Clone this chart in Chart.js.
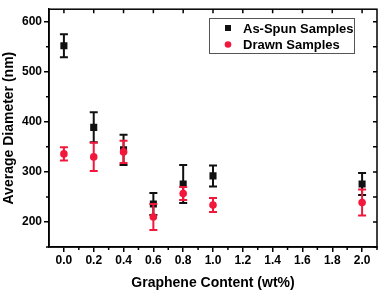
<!DOCTYPE html>
<html>
<head>
<meta charset="utf-8">
<script src="https://cdn.jsdelivr.net/npm/chart.js@4"></script>
<style>
  html, body { margin: 0; padding: 0; background: #fff; }
  #wrap { width: 382px; height: 292px; }
</style>
</head>
<body>
<div id="wrap"><canvas id="myChart"></canvas></div>
<script>
// graphene content (wt%) and fibre diameters
const contents = [0.0, 0.2, 0.4, 0.6, 0.8, 1.0, 2.0];
const asSpunMean = [552, 389, 344, 236, 276, 292, 276];
const asSpunErr = [23, 30, 30, 22, 38, 21, 22];
const drawnMean = [336, 330, 340, 210, 257, 234, 239];
const drawnErr = [13, 28, 22, 26, 13, 14, 26];

const xTicks = [0.0, 0.2, 0.4, 0.6, 0.8, 1.0, 1.2, 1.4, 1.6, 1.8, 2.0];
const yTicks = [200, 300, 400, 500, 600];

const BLACK = '#111111';
const RED = '#f2183c';
const FONT = '"Liberation Sans", Arial, sans-serif';

function toPoints(xs, ys, errs) {
  return xs.map((x, i) => ({ x: x, y: ys[i], err: errs[i] }));
}

// error bars, drawn just before each dataset's markers
const errorBars = {
  id: 'errorBars',
  beforeDatasetDraw(chart, args) {
    const ds = chart.data.datasets[args.index];
    const xs = chart.scales.x, ys = chart.scales.y;
    const ctx = chart.ctx;
    ctx.save();
    ctx.strokeStyle = ds.borderColor;
    ctx.lineWidth = 2;
    ds.data.forEach(p => {
      const px = xs.getPixelForValue(p.x);
      const top = ys.getPixelForValue(p.y + p.err);
      const bot = ys.getPixelForValue(p.y - p.err);
      ctx.beginPath();
      ctx.moveTo(px, top); ctx.lineTo(px, bot);
      ctx.moveTo(px - 4, top); ctx.lineTo(px + 4, top);
      ctx.moveTo(px - 4, bot); ctx.lineTo(px + 4, bot);
      ctx.stroke();
    });
    ctx.restore();
  }
};

// frame, minor ticks, mirrored ticks and the boxed legend
const frame = {
  id: 'frame',
  afterDraw(chart) {
    const { ctx, chartArea: a } = chart;
    const xs = chart.scales.x, ys = chart.scales.y;
    ctx.save();
    ctx.strokeStyle = '#000';
    ctx.lineWidth = 1.5;
    ctx.strokeRect(a.left, a.top, a.right - a.left, a.bottom - a.top);
    ctx.beginPath();
    for (let v = 0.1; v < 2.1; v += 0.2) {
      const px = xs.getPixelForValue(v);
      ctx.moveTo(px, a.bottom); ctx.lineTo(px, a.bottom + 3);
    }
    xTicks.forEach(v => {
      const px = xs.getPixelForValue(v);
      ctx.moveTo(px, a.top); ctx.lineTo(px, a.top + 4);
    });
    for (let v = 150; v <= 600; v += 100) {
      const py = ys.getPixelForValue(v);
      ctx.moveTo(a.left - 3, py); ctx.lineTo(a.left, py);
    }
    for (let v = 150; v <= 600; v += 50) {
      const py = ys.getPixelForValue(v);
      ctx.moveTo(a.right - 4, py); ctx.lineTo(a.right, py);
    }
    ctx.stroke();

    // legend
    ctx.lineWidth = 1;
    ctx.strokeStyle = '#555';
    ctx.strokeRect(209.5, 18.5, 145, 35);
    ctx.font = 'bold 13px ' + FONT;
    ctx.textBaseline = 'middle';
    ctx.textAlign = 'left';
    chart.data.datasets.forEach((ds, i) => {
      const cy = 28 + i * 16.5;
      ctx.fillStyle = ds.backgroundColor;
      if (ds.pointStyle === 'rect') {
        ctx.fillRect(225, cy - 3, 6, 6);
      } else {
        ctx.beginPath();
        ctx.arc(228, cy, 3.3, 0, Math.PI * 2);
        ctx.fill();
      }
      ctx.fillStyle = '#000';
      ctx.fillText(ds.label, 243, cy + 1);
    });
    ctx.restore();
  }
};

new Chart(document.getElementById('myChart'), {
  type: 'scatter',
  data: {
    datasets: [
      {
        label: 'As-Spun Samples',
        data: toPoints(contents, asSpunMean, asSpunErr),
        pointStyle: 'rect',
        pointRadius: 5,
        backgroundColor: BLACK,
        borderColor: BLACK,
        borderWidth: 0,
        order: 2,
      },
      {
        label: 'Drawn Samples',
        data: toPoints(contents, drawnMean, drawnErr),
        pointStyle: 'circle',
        pointRadius: 3.8,
        backgroundColor: RED,
        borderColor: RED,
        borderWidth: 0,
        order: 1,
      },
    ],
  },
  options: {
    responsive: true,
    maintainAspectRatio: false,
    animation: false,
    layout: { padding: { top: 3, right: 4, left: 0, bottom: 0 } },
    plugins: { legend: { display: false }, tooltip: { enabled: false } },
    scales: {
      x: {
        type: 'linear',
        min: -0.1,
        max: 2.1,
        afterBuildTicks: s => { s.ticks = xTicks.map(v => ({ value: v })); },
        afterFit: s => { s.height = 45; },
        grid: { drawOnChartArea: false, color: '#000', lineWidth: 1.5, tickLength: 5 },
        border: { display: true, color: '#000', width: 1.5 },
        ticks: {
          padding: 1,
          color: '#000',
          font: { family: FONT, size: 12, weight: 'bold' },
          callback: v => Number(v).toFixed(1),
        },
        title: {
          display: true,
          text: 'Graphene Content (wt%)',
          color: '#000',
          font: { family: FONT, size: 14, weight: 'bold' },
          padding: { top: 0, bottom: 0 },
        },
      },
      y: {
        type: 'linear',
        min: 150,
        max: 625,
        afterBuildTicks: s => { s.ticks = yTicks.map(v => ({ value: v })); },
        afterFit: s => { s.width = 49; },
        grid: { drawOnChartArea: false, color: '#000', lineWidth: 1.5, tickLength: 5 },
        border: { display: true, color: '#000', width: 1.5 },
        ticks: {
          padding: 2,
          color: '#000',
          font: { family: FONT, size: 12, weight: 'bold' },
        },
        title: {
          display: true,
          text: 'Average Diameter (nm)',
          color: '#000',
          font: { family: FONT, size: 14, weight: 'bold' },
          padding: { top: 1, bottom: 0 },
        },
      },
    },
  },
  plugins: [errorBars, frame],
});
</script>
</body>
</html>
